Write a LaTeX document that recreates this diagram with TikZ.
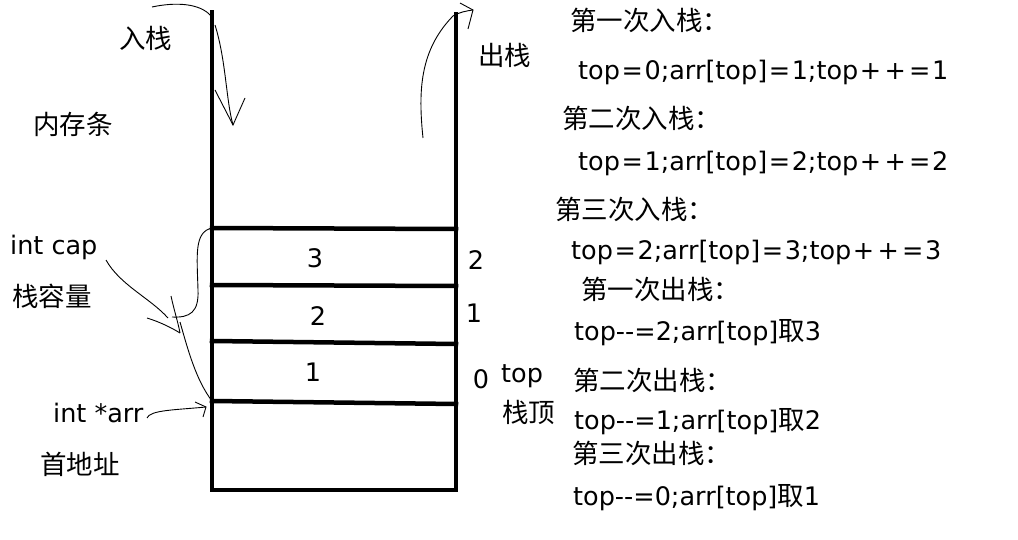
\documentclass[tikz,border=0pt]{standalone}
\usepackage{fontspec}
\setmainfont{DejaVu Sans}
\newfontfamily\cjkf{Noto Sans CJK SC}
\newcommand{\cjk}{\cjkf\fontsize{26.5}{30}\selectfont}
\newcommand{\Eq}{\kern1.6pt=\kern1.6pt}
\newcommand{\Pl}{\kern1.6pt+\kern1.6pt}
\begin{document}
\begin{tikzpicture}[x=1pt,y=-1pt,
  txt/.style={inner sep=0pt, anchor=west, font=\fontsize{25.5}{30}\selectfont},
  wall/.style={line width=4.5pt, line cap=rect},
  hand/.style={line width=0.9pt}]
\useasboundingbox[fill=white] (0,0) rectangle (1018,540);
% stack
\coordinate (LT) at (212,12);
\coordinate (RT) at (456,14);
\coordinate (LB) at (212,490);
\coordinate (RB) at (456,490);
\draw[wall] (LT) -- (LB) -- (RB) -- (RT);
\coordinate (l3) at (212,228); \coordinate (r3) at (456,229);
\coordinate (l2) at (212,285); \coordinate (r2) at (456,286);
\coordinate (l1) at (212,341); \coordinate (r1) at (456,344);
\coordinate (l0) at (212,401); \coordinate (r0) at (456,404);
\draw[wall] (l3) -- (r3);
\draw[wall] (l2) -- (r2);
\draw[wall] (l1) -- (r1);
\draw[wall] (l0) -- (r0);
% cell values
\node[txt, anchor=center] (v3) at (315,258) {3};
\node[txt, anchor=center] (v2) at (318,316) {2};
\node[txt, anchor=center] (v1) at (313,372) {1};
\node[txt, anchor=center] (i2) at (476,260) {2};
\node[txt, anchor=center] (i1) at (474,313) {1};
\node[txt, anchor=center] (i0) at (481,379) {0};
\node[txt] (top) at (501,376) {top};
\node[txt] (zd) at (502,412) {\cjk 栈顶};
% left labels
\node[txt] (ruzhan) at (119,38) {\cjk 入栈};
\node[txt] (chuzhan) at (478,55) {\cjk 出栈};
\node[txt] (ncun) at (33,124) {\cjk 内存条};
\node[txt] (cap) at (10,247) {int cap};
\node[txt] (rl) at (12,296) {\cjk 栈容量};
\node[txt] (arr) at (53,413) {int *arr};
\node[txt] (sdz) at (40,464) {\cjk 首地址};
% right column
\node[txt] (t1) at (570,20) {\cjk 第一次入栈：};
\node[txt] (c1) at (578,72) {top\Eq0;arr[top]\Eq1;top\Pl\Pl\Eq1};
\node[txt] (t2) at (562,118) {\cjk 第二次入栈：};
\node[txt] (c2) at (578,163) {top\Eq1;arr[top]\Eq2;top\Pl\Pl\Eq2};
\node[txt] (t3) at (555,209) {\cjk 第三次入栈：};
\node[txt] (c3) at (571,252) {top\Eq2;arr[top]\Eq3;top\Pl\Pl\Eq3};
\node[txt] (t4) at (581,289) {\cjk 第一次出栈：};
\node[txt] (c4) at (574,333) {top-{}-=2;arr[top]{\cjk 取}3};
\node[txt] (t5) at (573,380) {\cjk 第二次出栈：};
\node[txt] (c5) at (574,422) {top-{}-=1;arr[top]{\cjk 取}2};
\node[txt] (t6) at (572,453) {\cjk 第三次出栈：};
\node[txt] (c6) at (573,498) {top-{}-=0;arr[top]{\cjk 取}1};
% hand-drawn push arrow
\coordinate (pa) at (152,7);
\coordinate (pb) at (233,125);
\draw[hand] (pa) .. controls (175,2) and (200,3) .. (211,16);
\draw[hand] (215,25) .. controls (226,60) and (226,100) .. (pb);
\draw[hand] (215,90) -- (pb) -- (245,98);
% hand-drawn pop arrow
\coordinate (qa) at (423,138);
\coordinate (qb) at (473,10);
\draw[hand] (qa) .. controls (418,90) and (420,50) .. (453,16) .. controls (460,12) and (466,11) .. (qb);
\draw[hand] (460,3) -- (qb) -- (468,29);
% bracket and int cap arrow
\draw[hand] (l3) .. controls (194,232) and (197,255) .. (198,290) .. controls (199,312) and (190,318) .. (172,317);
\draw[hand] (106,260) .. controls (120,285) and (150,298) .. (168,318);
\draw[hand] (147,318) .. controls (160,322) and (172,328) .. (180,333);
\draw[hand] (171,296) .. controls (174,310) and (178,322) .. (180,333);
\draw[hand] (180,322) .. controls (188,350) and (196,380) .. (l0);
% int *arr arrow
\coordinate (ab) at (206,407);
\draw[hand] (147,418) .. controls (150,410) and (175,410) .. (ab);
\draw[hand] (195,402) -- (ab) -- (203,417);
\end{tikzpicture}
\end{document}
